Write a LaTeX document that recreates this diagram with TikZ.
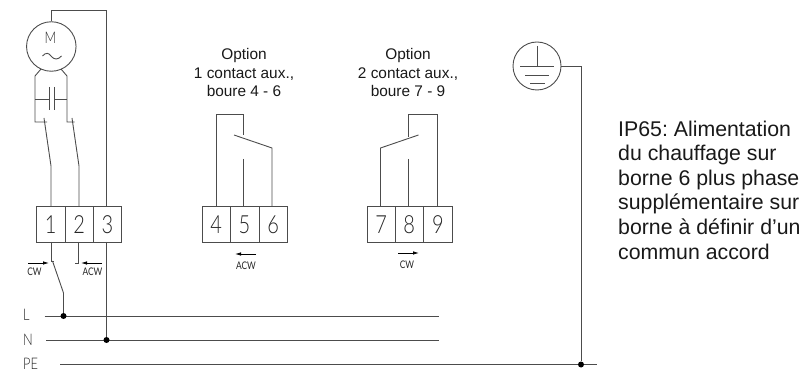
\documentclass[tikz,border=0pt]{standalone}
\usepackage{fontspec}
\setmainfont{Liberation Sans}
\newfontfamily\cadfont{Lato Light}
\newfontfamily\cadsmallfont{Lato}
\usetikzlibrary{arrows.meta}
\definecolor{wire}{gray}{0.3}
\newcommand\narrowtxt[1]{\scalebox{0.8}[1]{#1}}
\tikzset{
  wireline/.style={draw=wire,line width=0.9pt},
  cad/.style={text=black!85,font=\fontsize{16}{16}\cadfont,inner sep=0pt},
  cadsmall/.style={text=black!85,font=\fontsize{10.5}{10.5}\cadsmallfont,inner sep=0pt},
  cadlabel/.style={text=black!85,font=\fontsize{16}{16}\cadfont,inner sep=0pt,anchor=base west},
  term/.style={wireline,rectangle,minimum height=36pt,inner sep=0pt,anchor=north west,text=black!85,font=\fontsize{25}{25}\cadfont},
  dotnode/.style={circle,fill=black,draw=none,minimum size=6pt,inner sep=0pt},
  dirarrow/.style={draw=black,line width=0.8pt,-{Latex[length=6pt,width=3.5pt]}},
  opt/.style={align=center,font=\fontsize{15.4}{18.3}\selectfont\frenchspacing,inner sep=0pt,text=black!90},
  note/.style={align=left,font=\fontsize{21.3}{24.6}\selectfont\frenchspacing,inner sep=0pt,text=black!90,anchor=north west}
}
\begin{document}
\begin{tikzpicture}[x=1pt,y=-1pt]
\useasboundingbox (0,0) rectangle (803,371);
% motor
\node[wireline,circle,minimum size=49.5pt,inner sep=0pt] (motor) at (51.3,46.5) {};
\node[cad] (mM) at (50.5,38) {\narrowtxt{M}};
\draw[wireline] (42.5,56) .. controls (46,52) and (49,53) .. (51,56) .. controls (54,60) and (58,60) .. (61.5,56);
% terminals
\node[term,minimum width=28.5pt] (t1) at (36,206) {\narrowtxt{1}};
\node[term,minimum width=28.5pt] (t2) at (64.5,206) {\narrowtxt{2}};
\node[term,minimum width=28pt] (t3) at (93,206) {\narrowtxt{3}};
\node[term,minimum width=27.5pt] (t4) at (202,206) {\narrowtxt{4}};
\node[term,minimum width=29pt] (t5) at (229.5,206) {\narrowtxt{5}};
\node[term,minimum width=28.5pt] (t6) at (258.5,206) {\narrowtxt{6}};
\node[term,minimum width=27.5pt] (t7) at (367,206) {\narrowtxt{7}};
\node[term,minimum width=28.5pt] (t8) at (394.5,206) {\narrowtxt{8}};
\node[term,minimum width=29pt] (t9) at (423,206) {\narrowtxt{9}};
\coordinate (t3top) at (106.5,206);
% motor wiring
\draw[wireline] (motor.north) -- (51.3,10) -- (106.5,10) -- (t3top);
\draw[wireline] (41,69) -- (35,76) -- (35,122) -- (47,122);
\draw[wireline] (61,69) -- (67,76) -- (67,122) -- (74.5,122);
\draw[wireline] (44,118) -- (51,166) -- (51,206);
\draw[wireline] (72,118) -- (79,166) -- (79,206);
% capacitor
\draw[wireline] (35,99) -- (48.5,99) (49,87) -- (49,110) (54,87) -- (54,110) (54,99) -- (67,99);
% below terminals
\coordinate (swtop) at (51,261);
\draw[wireline] (51,242) -- (swtop) -- (54,261);
\draw[wireline] (52.5,261) -- (63.5,293) -- (63.5,316);
\draw[wireline] (78.5,242) -- (78.5,263) -- (75,263);
% arrows
\coordinate (cwa) at (28,263); \coordinate (cwb) at (49,263);
\coordinate (acwa) at (102,263); \coordinate (acwb) at (81,263);
\draw[dirarrow] (cwa) -- (cwb);
\draw[dirarrow] (acwa) -- (acwb);
\node[cadsmall] (lcw) at (34.5,272) {\narrowtxt{CW}};
\node[cadsmall] (lacw) at (92.5,272) {\narrowtxt{ACW}};
% mains
\node[cadlabel] (lL) at (23,320) {\narrowtxt{L}};
\node[cadlabel] (lN) at (23,345) {\narrowtxt{N}};
\node[cadlabel] (lPE) at (23,369) {\narrowtxt{PE}};
\coordinate (Lend) at (439,316);
\coordinate (Nend) at (439,340);
\coordinate (PEend) at (597,364);
\draw[wireline] (44.5,316) -- (Lend);
\draw[wireline] (46,340) -- (Nend);
\draw[wireline] (60,364) -- (PEend);
\draw[wireline] (106.5,242) -- (106.5,340);
\node[dotnode] (dL) at (63.5,316) {};
\node[dotnode] (dN) at (106.5,340) {};
\node[dotnode] (dPE) at (581,364.5) {};
% contact 4-6
\draw[wireline] (216,206) -- (216,114) -- (243.5,114) -- (243.5,135);
\draw[wireline] (234,135) -- (272,148) -- (272,206);
\draw[wireline] (243.5,159) -- (243.5,206);
\draw[dirarrow] (256,254) -- (235,254);
\node[cadsmall] (l1) at (246,266) {\narrowtxt{ACW}};
% contact 7-9
\draw[wireline] (380.5,206) -- (380.5,148) -- (418.5,135);
\draw[wireline] (408.5,159) -- (408.5,206);
\draw[wireline] (408.5,137) -- (408.5,114) -- (437,114) -- (437,206);
\draw[dirarrow] (398,253) -- (419,253);
\node[cadsmall] (l2) at (407,264.5) {\narrowtxt{CW}};
% ground
\node[wireline,circle,minimum size=48pt,inner sep=0pt] (gnd) at (537,66) {};
\draw[wireline] (537,46) -- (537,66) (520,66) -- (554,66) (525,75) -- (549,75) (530,83) -- (545,83);
\draw[wireline] (gnd.east) -- (581,66) -- (dPE);
% text
\node[opt] (o1) at (244,72.5) {Option\\1 contact aux.,\\boure 4 - 6};
\node[opt] (o2) at (408,72.5) {Option\\2 contact aux.,\\boure 7 - 9};
\node[note] (n) at (618,120.5) {IP65: Alimentation\\du chauffage sur\\borne 6 plus phase\\supplémentaire sur\\borne à définir d’un\\commun accord};
\end{tikzpicture}
\end{document}
